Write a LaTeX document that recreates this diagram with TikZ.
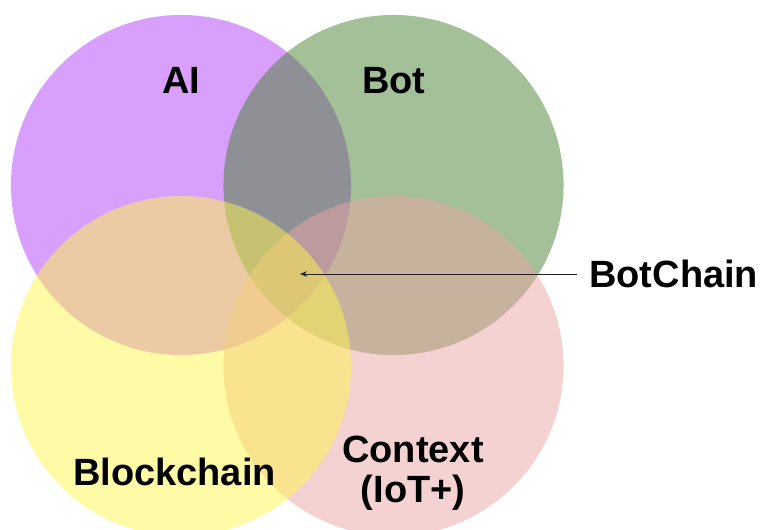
\documentclass[tikz,border=0pt]{standalone}
\usepackage{fontspec}
\setmainfont{Liberation Sans}
\usetikzlibrary{positioning,arrows.meta}
\definecolor{aipurple}{RGB}{177,65,249}
\definecolor{botgreen}{RGB}{71,129,49}
\definecolor{ctxpink}{RGB}{235,165,165}
\definecolor{chainyellow}{RGB}{255,245,77}
\definecolor{pointergray}{RGB}{35,35,35}

\begin{document}
\begin{tikzpicture}[
    x=0.025cm, y=-0.025cm,
    % --- Set styles ---
    setcircle/.style={
      circle, minimum size=8.5cm, inner sep=0pt,
      draw=none, fill opacity=0.5,
    },
    aiset/.style={setcircle, fill=aipurple},
    botset/.style={setcircle, fill=botgreen},
    ctxset/.style={setcircle, fill=ctxpink},
    chainset/.style={setcircle, fill=chainyellow},
    % --- Label styles ---
    setlabel/.style={
      font=\fontsize{27}{28.5}\selectfont\bfseries,
      text=black, inner sep=0pt, align=center,
    },
    % --- Arrow style ---
    pointer/.style={-{Stealth[length=5pt, width=4pt]}, line width=0.6pt, color=pointergray},
  ]

    \clip (0,0) rectangle (760,529);

    % ===================== SETS =====================
    \node[aiset]    (ai)    at (181,185)   {};
    \node[botset]   (bot)   at (393.5,185) {};
    \node[ctxset]   (ctx)   at (393.5,366) {};
    \node[chainset] (chain) at (181,366)   {};

    % ===================== SET LABELS =====================
    \node[setlabel, anchor=base] (ailbl)    at (181,93)    {AI};
    \node[setlabel, anchor=base] (botlbl)   at (394,93)    {Bot};
    \node[setlabel, anchor=base] (chainlbl) at (174.5,485) {Blockchain};
    \node[setlabel]              (ctxlbl)   at (413,473.5) {Context\\(IoT+)};

    % ===================== CORE POINTER =====================
    \coordinate (core) at (300,274);
    \node[setlabel, inner xsep=0.3cm, right=6.925cm of core] (botchain) {BotChain};
    \draw[pointer] (botchain.west) -- (core);

\end{tikzpicture}
\end{document}
